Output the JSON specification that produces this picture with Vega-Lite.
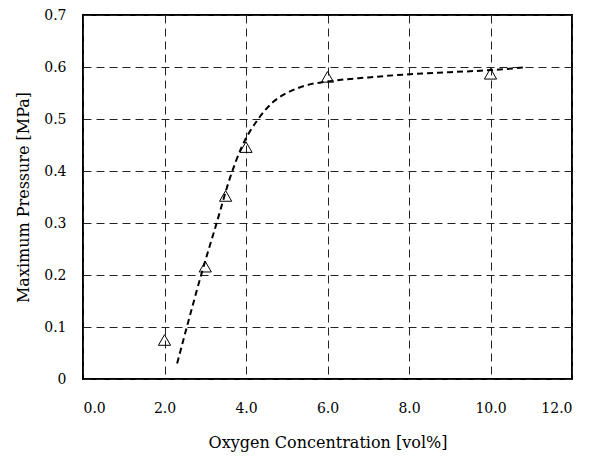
{
  "$schema": "https://vega.github.io/schema/vega-lite/v6.json",
  "autosize": {"type": "none"},
  "padding": {"left": 83, "top": 15, "right": 29, "bottom": 81},
  "width": 489,
  "height": 364,
  "background": "white",
  "config": {
    "font": "DejaVu Serif",
    "view": {"stroke": "black", "strokeWidth": 2},
    "axis": {
      "labelFont": "DejaVu Serif",
      "titleFont": "DejaVu Serif",
      "labelFontSize": 14,
      "titleFontSize": 16,
      "titleFontWeight": "normal",
      "labelColor": "black",
      "titleColor": "black",
      "domain": false,
      "ticks": false,
      "grid": true,
      "gridColor": "#222",
      "gridDash": [8, 5],
      "gridWidth": 1,
      "gridOpacity": 1
    }
  },
  "datasets": {
    "curve": [
      {"x": 2.31, "y": 0.03},
      {"x": 2.6, "y": 0.115},
      {"x": 2.91, "y": 0.203},
      {"x": 3.28, "y": 0.3},
      {"x": 3.6, "y": 0.385},
      {"x": 3.9, "y": 0.447},
      {"x": 4.3, "y": 0.5},
      {"x": 4.67, "y": 0.533},
      {"x": 5.08, "y": 0.553},
      {"x": 5.49, "y": 0.565},
      {"x": 5.98, "y": 0.572},
      {"x": 7.0, "y": 0.58},
      {"x": 8.0, "y": 0.586},
      {"x": 9.0, "y": 0.59},
      {"x": 10.0, "y": 0.594},
      {"x": 10.8, "y": 0.599}
    ],
    "points": [
      {"x": 2, "y": 0.075},
      {"x": 3, "y": 0.216},
      {"x": 3.5, "y": 0.352},
      {"x": 4, "y": 0.446},
      {"x": 6, "y": 0.581},
      {"x": 10, "y": 0.587}
    ]
  },
  "layer": [
    {
      "data": {"name": "curve"},
      "mark": {"type": "line", "color": "black", "strokeWidth": 2, "strokeDash": [6, 4], "interpolate": "monotone"},
      "encoding": {
        "x": {"field": "x", "type": "quantitative", "scale": {"domain": [0, 12], "nice": false},
          "axis": {"values": [0, 2, 4, 6, 8, 10, 12], "format": ".1f", "title": "Oxygen Concentration [vol%]", "labelPadding": 22, "titlePadding": 19}},
        "y": {"field": "y", "type": "quantitative", "scale": {"domain": [0, 0.7], "nice": false},
          "axis": {"values": [0, 0.1, 0.2, 0.3, 0.4, 0.5, 0.6, 0.7], "labelExpr": "datum.value == 0 ? '0' : format(datum.value, '.1f')", "title": "Maximum Pressure [MPa]", "labelPadding": 17, "titlePadding": 12}}
      }
    },
    {
      "data": {"name": "points"},
      "mark": {"type": "point", "shape": "triangle-up", "filled": false, "color": "black", "strokeWidth": 1, "size": 150, "opacity": 1},
      "encoding": {
        "x": {"field": "x", "type": "quantitative"},
        "y": {"field": "y", "type": "quantitative"}
      }
    }
  ]
}
